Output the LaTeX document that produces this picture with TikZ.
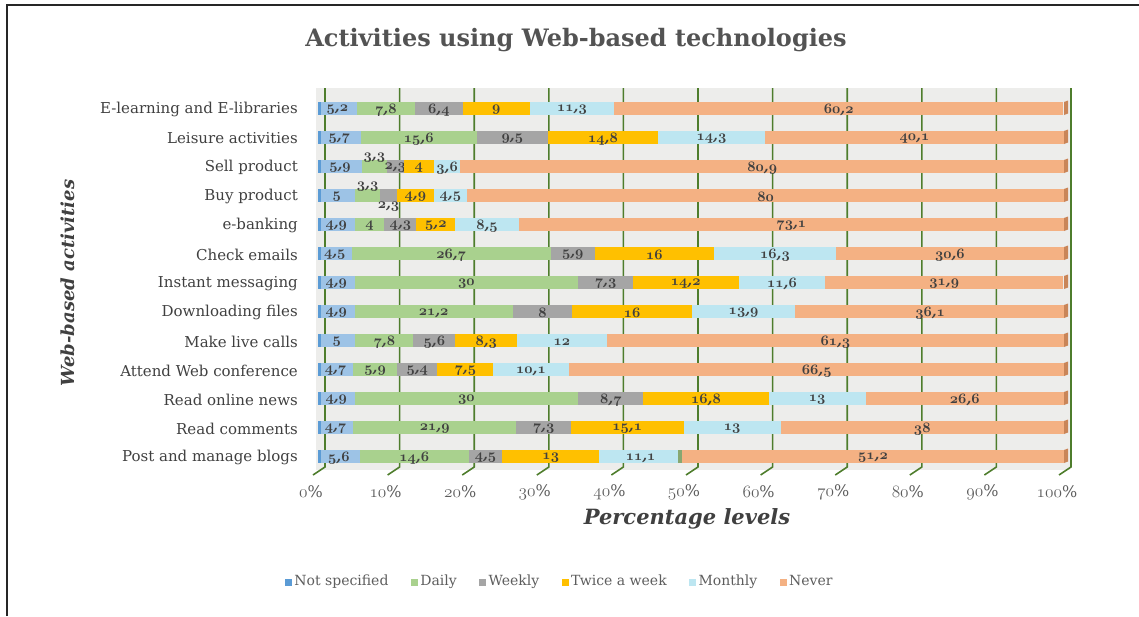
\documentclass[tikz,border=0pt]{standalone}
\usepackage{fontspec}
\setmainfont{DejaVu Serif}
\usetikzlibrary{positioning}
\definecolor{cNS}{HTML}{9DC3E6}
\definecolor{cNSd}{HTML}{5B9BD5}
\definecolor{cDA}{HTML}{A9D18E}
\definecolor{cWE}{HTML}{A5A5A5}
\definecolor{cTW}{HTML}{FFC000}
\definecolor{cMO}{HTML}{BDE6F1}
\definecolor{cNE}{HTML}{F4B183}
\definecolor{cNEd}{HTML}{C98558}
\definecolor{gridc}{HTML}{4E7D2C}
\definecolor{wall}{HTML}{EDEDEB}
\definecolor{txt}{HTML}{404040}
%% old style digits (series, digits)
\newcommand{\osn}[2]{{\usefont{OML}{cmm}{#1}{it}#2}}
%% value with decimal comma
\def\valsplit#1.#2.#3\relax{\osn{b}{#1}\ifx\relax#2\relax\else,\osn{b}{#2}\fi}
\newcommand{\val}[1]{\expandafter\valsplit#1..\relax}
%% one bar: #1 row, #2 activity, #3 value/colour/label shift
\newcommand{\barrow}[3]{%
  \pgfmathsetmacro{\yc}{108.5+29*#1}
  \node[cat] (cat#1) at (298,\yc+1) {#2};
  \foreach \v/\col/\dy [count=\k, remember=\xe as \xs (initially 0)] in {#3}{
    \pgfmathsetmacro{\xe}{\xs+\v}
    \fill[\col] ({318+7.46*\xs},\yc-6.5) rectangle ({318+7.46*\xe},\yc+6.5);
    \node[lbl] (v#1-\k) at ({318+7.46*(\xs+\xe)/2},\yc+1.5+\dy) {\val{\v}};
  }
  \fill[cNSd] (318,\yc-6.5) rectangle (321,\yc+6.5);
  \fill[cNEd] (1064,\yc-6.5) -- (1068,\yc-8) -- (1068,\yc+5) -- (1064,\yc+6.5) -- cycle;
}
\begin{document}
\begin{tikzpicture}
[x=1pt,y=-1pt,
cat/.style={anchor=east,inner sep=0pt,text=txt,font=\fontsize{15}{15}\selectfont},
lbl/.style={inner sep=0pt,text=txt,font=\fontsize{14}{14}\selectfont\bfseries\itshape},
tick/.style={inner sep=0pt,text=txt!85,font=\fontsize{16}{16}\selectfont},
gridln/.style={gridc,line width=1.6pt},
lgsq/.style={inner sep=0pt,minimum size=7pt},
lgtxt/.style={inner sep=0pt,text height=10pt,text depth=3pt,text=txt!85,font=\fontsize{14}{14}\selectfont}]
\useasboundingbox (0,0) rectangle (1139,616);
%%
%% frame
\draw[line width=2pt,black!85] (7,616) -- (7,5) -- (1139,5);
%%
%%%%%%%%%%%%%%%%%%
% Titles
%%%%%%%%%%%%%%%%%%
\node[text=txt!90,font=\fontsize{24}{26}\selectfont\bfseries] (title) at (576,40) {Activities using Web-based technologies};
\node[text=txt,font=\fontsize{21}{22}\selectfont\bfseries\itshape] (xtitle) at (687,519) {Percentage levels};
\node[text=txt,font=\fontsize{18}{20}\selectfont\bfseries\itshape,rotate=90] (ytitle) at (68,283) {Web-based activities};
%%
%%%%%%%%%%%%%%%%%%
% Back wall and grid
%%%%%%%%%%%%%%%%%%
\fill[wall] (316,88) rectangle (1070,470);
\foreach \k in {0,...,10}{
  \draw[gridln] ({325+74.6*\k},88) -- ({325+74.6*\k},467) -- ({313+74.6*\k},475);
  \node[tick] (t\k) at ({325+74.6*\k-14},492) {\osn{m}{\the\numexpr10*\k\relax}\%};
}
%%
%%%%%%%%%%%%%%%%%%
% Bars
%%%%%%%%%%%%%%%%%%
\barrow{0}{E-learning and E-libraries}{5.2/cNS/0,7.8/cDA/0,6.4/cWE/0,9/cTW/0,11.3/cMO/0,60.2/cNE/0}
\barrow{1}{Leisure activities}{5.7/cNS/0,15.6/cDA/0,9.5/cWE/0,14.8/cTW/0,14.3/cMO/0,40.1/cNE/0}
\barrow{2}{Sell product}{5.9/cNS/0,3.3/cDA/-10,2.3/cWE/0,4/cTW/0,3.6/cMO/0,80.9/cNE/0}
\barrow{3}{Buy product}{5/cNS/0,3.3/cDA/-10,2.3/cWE/10,4.9/cTW/0,4.5/cMO/0,80/cNE/0}
\barrow{4}{e-banking}{4.9/cNS/0,4/cDA/0,4.3/cWE/0,5.2/cTW/0,8.5/cMO/0,73.1/cNE/0}
\barrow{5}{Check emails}{4.5/cNS/0,26.7/cDA/0,5.9/cWE/0,16/cTW/0,16.3/cMO/0,30.6/cNE/0}
\barrow{6}{Instant messaging}{4.9/cNS/0,30/cDA/0,7.3/cWE/0,14.2/cTW/0,11.6/cMO/0,31.9/cNE/0}
\barrow{7}{Downloading files}{4.9/cNS/0,21.2/cDA/0,8/cWE/0,16/cTW/0,13.9/cMO/0,36.1/cNE/0}
\barrow{8}{Make live calls}{5/cNS/0,7.8/cDA/0,5.6/cWE/0,8.3/cTW/0,12/cMO/0,61.3/cNE/0}
\barrow{9}{Attend Web conference}{4.7/cNS/0,5.9/cDA/0,5.4/cWE/0,7.5/cTW/0,10.1/cMO/0,66.5/cNE/0}
\barrow{10}{Read online news}{4.9/cNS/0,30/cDA/0,8.7/cWE/0,16.8/cTW/0,13/cMO/0,26.6/cNE/0}
\barrow{11}{Read comments}{4.7/cNS/0,21.9/cDA/0,7.3/cWE/0,15.1/cTW/0,13/cMO/0,38/cNE/0}
\barrow{12}{Post and manage blogs}{5.6/cNS/0,14.6/cDA/0,4.5/cWE/0,13/cTW/0,11.1/cMO/0,51.2/cNE/0}
%% small green piece before Never
\fill[cDA!80!black] ({318+7.46*48.2},450) rectangle ({318+7.46*48.8},463);
%%
%%%%%%%%%%%%%%%%%%
% Legend
%%%%%%%%%%%%%%%%%%
\node[lgsq,fill=cNSd] (k1) at (288.5,582) {};
\node[lgtxt,right=2pt of k1] (n1) {Not specified};
\node[lgsq,fill=cDA,right=22pt of n1] (k2) {};
\node[lgtxt,right=2pt of k2] (n2) {Daily};
\node[lgsq,fill=cWE,right=22pt of n2] (k3) {};
\node[lgtxt,right=2pt of k3] (n3) {Weekly};
\node[lgsq,fill=cTW,right=22pt of n3] (k4) {};
\node[lgtxt,right=2pt of k4] (n4) {Twice a week};
\node[lgsq,fill=cMO,right=22pt of n4] (k5) {};
\node[lgtxt,right=2pt of k5] (n5) {Monthly};
\node[lgsq,fill=cNE,right=22pt of n5] (k6) {};
\node[lgtxt,right=2pt of k6] (n6) {Never};
\end{tikzpicture}
\end{document}
